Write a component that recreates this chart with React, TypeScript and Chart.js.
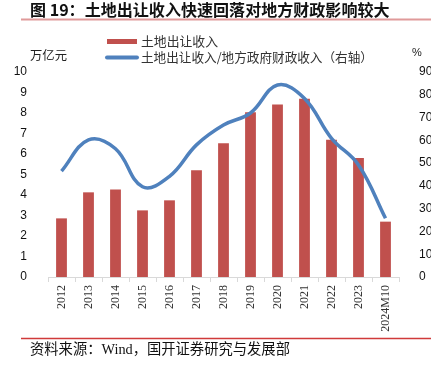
import React, { useEffect, useRef } from "react";
import { Chart, registerables } from "chart.js";

Chart.register(...registerables);

const categories = ["2012", "2013", "2014", "2015", "2016", "2017", "2018", "2019", "2020", "2021", "2022", "2023", "2024M10"];
const landRevenue = [2.86, 4.13, 4.27, 3.25, 3.74, 5.21, 6.52, 8.04, 8.41, 8.7, 6.69, 5.8, 2.7];
const landRatio = [46.5, 60.2, 56.3, 39.6, 44.2, 58.0, 66.7, 72.0, 84.3, 78.4, 60.9, 49.2, 25.8];
const leftTicks = [0, 10, 1];
const rightTicks = [0, 90, 10];

const titleText = "图 19：土地出让收入快速回落对地方财政影响较大";
const legendBar = "土地出让收入";
const legendLine = "土地出让收入/地方政府财政收入（右轴）";
const leftUnit = "万亿元";
const rightUnit = "%";
const sourceText = "资料来源：Wind，国开证券研究与发展部";

const W = 431;
const H = 369;

function fitText(
  ctx: CanvasRenderingContext2D,
  text: string,
  x: number,
  y: number,
  target: number,
  font: (s: number) => string
) {
  ctx.font = font(20);
  const w = ctx.measureText(text).width;
  const size = (20 * target) / w;
  ctx.font = font(size);
  ctx.fillText(text, x, y);
}

export default function App() {
  const ref = useRef<HTMLCanvasElement>(null);

  useEffect(() => {
    if (!ref.current) return;
    const decor = {
      id: "decor",
      afterDraw(chart: any) {
        const ctx = chart.ctx as CanvasRenderingContext2D;
        ctx.save();
        ctx.textBaseline = "middle";
        ctx.textAlign = "left";
        // Title
        ctx.fillStyle = "#111";
        fitText(ctx, titleText, 30, 9.5, 360, (s) => `bold ${s}px 'Noto Sans CJK SC', sans-serif`);
        // title underline
        ctx.strokeStyle = "#e09a9a";
        ctx.lineWidth = 2;
        ctx.beginPath();
        ctx.moveTo(21, 19.5);
        ctx.lineTo(W, 19.5);
        ctx.stroke();
        // legend
        ctx.fillStyle = "#c0504d";
        ctx.fillRect(107, 39, 30, 5);
        ctx.strokeStyle = "#4f81bd";
        ctx.lineWidth = 4;
        ctx.lineCap = "round";
        ctx.beginPath();
        ctx.moveTo(107, 57.5);
        ctx.lineTo(137, 57.5);
        ctx.stroke();
        ctx.fillStyle = "#333";
        fitText(ctx, legendBar, 141, 41.5, 77, (s) => `${s}px 'Noto Sans CJK SC', sans-serif`);
        fitText(ctx, legendLine, 141, 57.5, 232, (s) => `${s}px 'Noto Sans CJK SC', sans-serif`);
        // units
        ctx.fillStyle = "#222";
        fitText(ctx, leftUnit, 30, 55, 37, (s) => `${s}px 'Noto Sans CJK SC', sans-serif`);
        ctx.font = "11px 'Liberation Sans', sans-serif";
        ctx.fillText(rightUnit, 412, 53);
        // footer line
        ctx.strokeStyle = "#d03a3a";
        ctx.lineWidth = 1.5;
        ctx.lineCap = "butt";
        ctx.beginPath();
        ctx.moveTo(21, 338.5);
        ctx.lineTo(W, 338.5);
        ctx.stroke();
        ctx.fillStyle = "#111";
        fitText(ctx, sourceText, 30, 350, 260, (s) => `${s}px 'Liberation Serif', 'Noto Sans CJK SC', serif`);
        ctx.restore();
      },
    };

    const chart = new Chart(ref.current, {
      type: "bar",
      data: {
        labels: categories,
        datasets: [
          {
            type: "line",
            label: legendLine,
            data: landRatio,
            yAxisID: "y1",
            borderColor: "#4f81bd",
            borderWidth: 3.5,
            pointRadius: 0,
            tension: 0.4,
            fill: false,
            order: 0,
          } as any,
          {
            type: "bar",
            label: legendBar,
            data: landRevenue,
            yAxisID: "y",
            backgroundColor: "#c0504d",
            categoryPercentage: 1,
            barPercentage: 0.4,
            order: 1,
          },
        ],
      },
      options: {
        responsive: false,
        animation: false,
        layout: { padding: { left: 0, right: 0, top: 72, bottom: 32 } },
        plugins: { legend: { display: false }, title: { display: false }, tooltip: { enabled: false } },
        scales: {
          x: {
            grid: { display: true, drawOnChartArea: false, drawTicks: true, tickLength: 5, color: "#d9d9d9", offset: true },
            border: { display: true, color: "#d9d9d9", width: 1 },
            ticks: {
              minRotation: 90,
              maxRotation: 90,
              autoSkip: false,
              padding: 3,
              color: "#333",
              font: { family: "'Liberation Serif', serif", size: 12 },
            },
            afterFit: (s: any) => {
              s.height = 60;
            },
          },
          y: {
            position: "left",
            min: leftTicks[0],
            max: leftTicks[1],
            ticks: { stepSize: leftTicks[2], color: "#111", padding: 13, font: { family: "'Liberation Sans', sans-serif", size: 12 } },
            grid: { display: false },
            border: { display: false },
            afterFit: (s: any) => {
              s.width = 48;
            },
          },
          y1: {
            position: "right",
            min: rightTicks[0],
            max: rightTicks[1],
            ticks: { stepSize: rightTicks[2], color: "#111", padding: 12, font: { family: "'Liberation Sans', sans-serif", size: 12 } },
            grid: { display: false },
            border: { display: false },
            afterFit: (s: any) => {
              s.width = 32;
            },
          },
        },
      },
      plugins: [decor],
    });
    return () => chart.destroy();
  }, []);

  return (
    <div style={{ position: "fixed", left: 0, top: 0, width: W, height: H, background: "#fff" }}>
      <canvas ref={ref} width={W} height={H} style={{ width: W, height: H, display: "block" }} />
    </div>
  );
}
